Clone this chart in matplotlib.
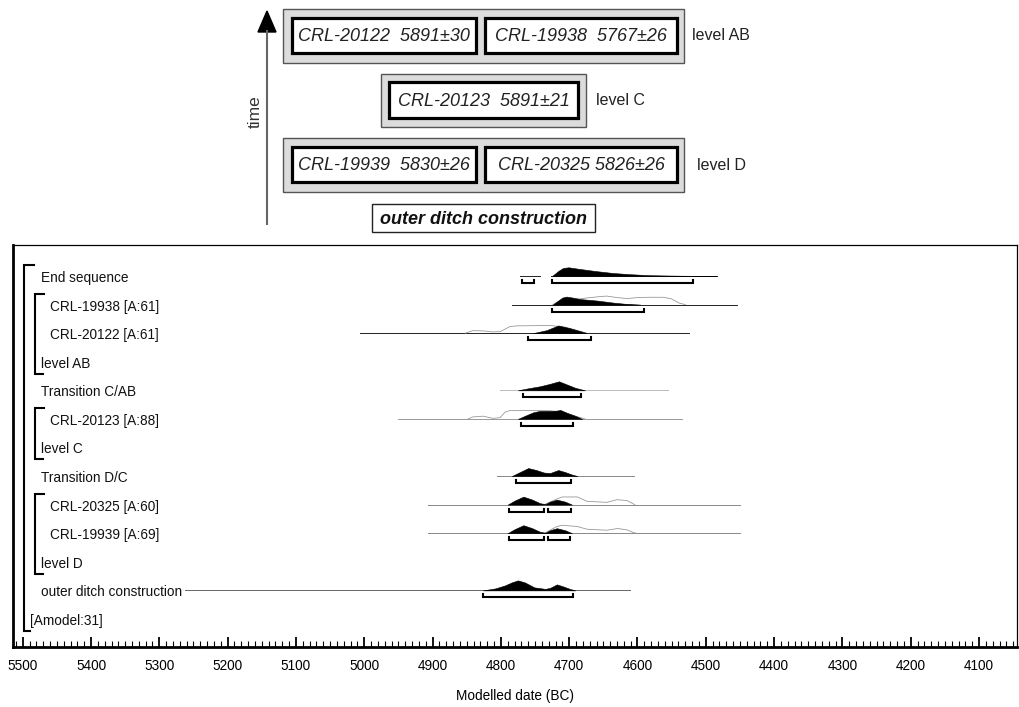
import matplotlib
matplotlib.use('Agg')
import matplotlib.pyplot as plt
import numpy as np
from matplotlib.patches import Rectangle
from matplotlib.ticker import MultipleLocator

plt.rcParams.update({'font.family': ['Liberation Sans', 'DejaVu Sans'], 'font.size': 9.5})

# ---------------- data (modelled dates, cal BC) ----------------
row_labels = ['End sequence', 'CRL-19938 [A:61]', 'CRL-20122 [A:61]', 'level AB',
              'Transition C/AB', 'CRL-20123 [A:88]', 'level C', 'Transition D/C',
              'CRL-20325 [A:60]', 'CRL-19939 [A:69]', 'level D',
              'outer ditch construction', '[Amodel:31]']
row_indent = [1, 2, 2, 1, 1, 2, 1, 1, 2, 2, 1, 1, 0]

# posterior (filled) curves: dates / relative density
end_d = [4725, 4716, 4709, 4701, 4684, 4662, 4636, 4611, 4582, 4538, 4484]
end_p = [0, 5, 8, 8.7, 7, 5, 3, 1.8, 0.8, 0.3, 0]
r19938_d = [4724, 4716, 4710, 4704, 4695, 4684, 4659, 4636, 4618, 4596]
r19938_p = [0, 4, 7, 8, 7, 5.5, 4, 2, 0.8, 0]
r20122_d = [4753, 4733, 4716, 4699, 4684, 4674]
r20122_p = [0, 3, 7.7, 5, 2, 0]
tcab_d = [4775, 4760, 4743, 4728, 4715, 4704, 4691, 4677]
tcab_p = [0, 2, 4, 6.5, 9, 6, 2.5, 0]
r20123_d = [4775, 4765, 4753, 4743, 4728, 4718, 4713, 4703, 4691, 4681]
r20123_p = [0, 3, 6.5, 8, 8, 8.3, 9, 6, 3, 0]
tdc_d = [4784, 4772, 4760, 4748, 4737, 4728, 4716, 4706, 4696, 4688]
tdc_p = [0, 4, 8, 6, 3.5, 3, 6, 4, 1.5, 0]
r20325_d = [4790, 4780, 4767, 4754, 4743, 4735, 4728, 4718, 4706, 4696]
r20325_p = [0, 4, 8, 5, 1.5, 0.5, 3, 5, 3, 0]
r19939_d = [4790, 4780, 4767, 4754, 4743, 4735, 4728, 4718, 4706, 4696]
r19939_p = [0, 4, 8, 5, 1.5, 0.5, 3, 5, 3, 0]
ditch_d = [4826, 4808, 4794, 4784, 4775, 4765, 4751, 4735, 4728, 4718, 4709, 4699, 4691]
ditch_p = [0, 2, 5, 8, 10, 8, 3, 1.5, 2.5, 6, 4, 1.5, 0]

# prior / unmodelled (outline) curves
r19938_prior_d = [4724, 4713, 4699, 4688, 4674, 4655, 4645, 4630, 4615, 4601, 4582, 4563, 4551, 4539, 4530]
r19938_prior_p = [0, 4, 5, 5.5, 6.6, 8, 8.5, 7, 6, 7, 7.3, 7.3, 6, 1.5, 0]
r20122_prior_d = [4852, 4841, 4826, 4813, 4801, 4794, 4787, 4777, 4728, 4706, 4687, 4674]
r20122_prior_p = [0, 2.5, 2.3, 1.3, 1.5, 4, 6.5, 7.3, 7.7, 6, 2.5, 0]
r20123_prior_d = [4848, 4841, 4826, 4811, 4801, 4794, 4787, 4728, 4706, 4687, 4677]
r20123_prior_p = [0, 2, 2.7, 0.5, 1.3, 6.7, 8.3, 8.3, 6, 2, 0]
r20325_prior_d = [4735, 4718, 4710, 4688, 4674, 4645, 4630, 4615, 4604]
r20325_prior_p = [0.5, 5.7, 7.7, 7.7, 3.3, 2.3, 5, 4, 0]
r19939_prior_d = [4735, 4718, 4710, 4688, 4674, 4645, 4629, 4615, 4606, 4602]
r19939_prior_p = [0.5, 6.7, 8, 6.7, 4, 3, 4.7, 3.3, 0.7, 0]

# full extent of each distribution (baseline)
end_span = [(4772, 4743), (4727, 4484)]
r19938_span = [(4784, 4455)]
r20122_span = [(5006, 4525)]
tcab_span = [(4801, 4555)]
r20123_span = [(4951, 4535)]
tdc_span = [(4806, 4605)]
r20325_span = [(4907, 4450)]
r19939_span = [(4907, 4450)]
ditch_span = [(5262, 4611)]

# 95.4% highest posterior density ranges
end_hpd = [(4769, 4752), (4725, 4519)]
r19938_hpd = [(4725, 4591)]
r20122_hpd = [(4760, 4668)]
tcab_hpd = [(4767, 4682)]
r20123_hpd = [(4771, 4694)]
tdc_hpd = [(4778, 4697)]
r20325_hpd = [(4788, 4737), (4731, 4697)]
r19939_hpd = [(4788, 4737), (4731, 4699)]
ditch_hpd = [(4826, 4694)]

# structure brackets (first row, last row, depth)
groups = [(0, 12, 0), (1, 3, 1), (5, 6, 1), (8, 10, 1)]

# top schematic
ab_codes = ['CRL-20122  5891\u00b130', 'CRL-19938  5767\u00b126']
c_codes = ['CRL-20123  5891\u00b121']
d_codes = ['CRL-19939  5830\u00b126', 'CRL-20325 5826\u00b126']

# ---------------- figure ----------------
W, H = 1019, 707
fig = plt.figure(figsize=(W / 100, H / 100), dpi=100)

# schematic overlay in pixel space
ov = fig.add_axes([0, 0, 1, 1])
ov.set_xlim(0, W); ov.set_ylim(H, 0); ov.axis('off')

def box(x0, x1, y0, y1, fc, ec, lw, z=1):
    ov.add_patch(Rectangle((x0, y0), x1 - x0, y1 - y0, fc=fc, ec=ec, lw=lw, zorder=z))

GREY = '#dcdcdc'
def level(codes, outer, inners, yo, yi, name, name_x):
    box(outer[0], outer[1], yo[0], yo[1], GREY, '#555555', 1.0)
    for (a, b), t in zip(inners, codes):
        box(a, b, yi[0], yi[1], 'white', 'black', 2.3, z=2)
        ov.text((a + b) / 2, (yi[0] + yi[1]) / 2 + 1, t, ha='center', va='center',
                fontsize=13, style='italic', color='#222', zorder=3)
    ov.text(name_x, (yo[0] + yo[1]) / 2, name, ha='left', va='center', fontsize=11.5, color='#222')

level(ab_codes, (283, 684), [(292, 476), (485, 677)], (9, 63), (18, 53), 'level AB', 692)
level(c_codes, (381, 586), [(389, 578)], (74, 127), (82, 118), 'level C', 596)
level(d_codes, (283, 684), [(292, 476), (485, 677)], (138, 192), (147, 182), 'level D', 697)
box(372, 595, 204, 232, 'white', '#222', 1.0)
ov.text(483.5, 219, 'outer ditch construction', ha='center', va='center', fontsize=13,
        style='italic', weight='bold', color='#111')
ov.plot([267, 267], [225, 30], color='#666666', lw=1.5, solid_capstyle='butt')
ov.fill([258, 267, 276], [32, 11, 32], color='black')
ov.text(255, 112, 'time', rotation=90, ha='center', va='center', fontsize=12.5, color='#333')

# lower OxCal panel
L, R, T, B = 13, 1017, 245, 647
ax = fig.add_axes([L / W, 1 - B / H, (R - L) / W, (B - T) / H])
ROW = 28.58          # pixels per row
Y0 = 278             # pixel centre of first row
ax.set_xlim(5500 + (22.7 - L) / 0.6831, 5500 - (R - 22.7) / 0.6831)
ax.set_ylim((B - Y0) / ROW, (T - Y0) / ROW)
px = 1 / ROW         # one pixel in row units

def xf(p):
    return (p - L) / (R - L)

tr = ax.get_yaxis_transform()
label_x = {0: 30, 1: 40.7, 2: 50}
for i, (lab, ind) in enumerate(zip(row_labels, row_indent)):
    ax.text(xf(label_x[ind]), i, lab, transform=tr, ha='left', va='center',
            fontsize=9.8, color='#111')

for first, last, depth in groups:
    bx = [24, 35][depth]
    foot = [10, 9][depth]
    top, bot = first - 0.45, last + 0.35
    ax.plot([xf(bx + foot), xf(bx), xf(bx), xf(bx + (6 if depth == 0 else 8))],
            [top, top, bot, bot], transform=tr, color='black', lw=1.5,
            solid_joinstyle='miter', clip_on=False)

rows = [
    (0, end_d, end_p, None, None, end_span, end_hpd, '#222222'),
    (1, r19938_d, r19938_p, r19938_prior_d, r19938_prior_p, r19938_span, r19938_hpd, '#222222'),
    (2, r20122_d, r20122_p, r20122_prior_d, r20122_prior_p, r20122_span, r20122_hpd, '#222222'),
    (4, tcab_d, tcab_p, None, None, tcab_span, tcab_hpd, '#bbbbbb'),
    (5, r20123_d, r20123_p, r20123_prior_d, r20123_prior_p, r20123_span, r20123_hpd, '#999999'),
    (7, tdc_d, tdc_p, None, None, tdc_span, tdc_hpd, '#888888'),
    (8, r20325_d, r20325_p, r20325_prior_d, r20325_prior_p, r20325_span, r20325_hpd, '#888888'),
    (9, r19939_d, r19939_p, r19939_prior_d, r19939_prior_p, r19939_span, r19939_hpd, '#888888'),
    (11, ditch_d, ditch_p, None, None, ditch_span, ditch_hpd, '#666666'),
]
for i, d, p, pd_, pp, span, hpd, lc in rows:
    base = i - 2 * px
    for a, b in span:
        ax.plot([a, b], [base, base], color=lc, lw=0.7, zorder=2)
    if pd_ is not None:
        ax.plot(pd_, base - np.array(pp) * px, color='#999999', lw=0.6, zorder=3)
    ax.fill_between(d, base, base - np.array(p) * px, color='black', lw=0.4, zorder=4)
    hy = base + 7 * px
    for a, b in hpd:
        ax.plot([a, a, b, b], [hy - 3 * px, hy, hy, hy - 3 * px], color='black', lw=1.5,
                solid_joinstyle='miter', zorder=4)

for s in ['top', 'right']:
    ax.spines[s].set_linewidth(0.9)
ax.spines['left'].set_linewidth(2.0)
ax.spines['bottom'].set_linewidth(2.0)
ax.set_yticks([])
ax.xaxis.set_major_locator(MultipleLocator(100))
ax.xaxis.set_minor_locator(MultipleLocator(10))
ax.set_xticks(np.arange(5500, 4099, -100))
ax.tick_params(axis='x', which='major', direction='in', length=7.5, width=1.3, pad=8.5, labelsize=9.8)
ax.tick_params(axis='x', which='minor', direction='in', length=4, width=0.8)
ax.set_xlabel('Modelled date (BC)', fontsize=9.8, labelpad=12)

fig.savefig('out.png', dpi=100)
